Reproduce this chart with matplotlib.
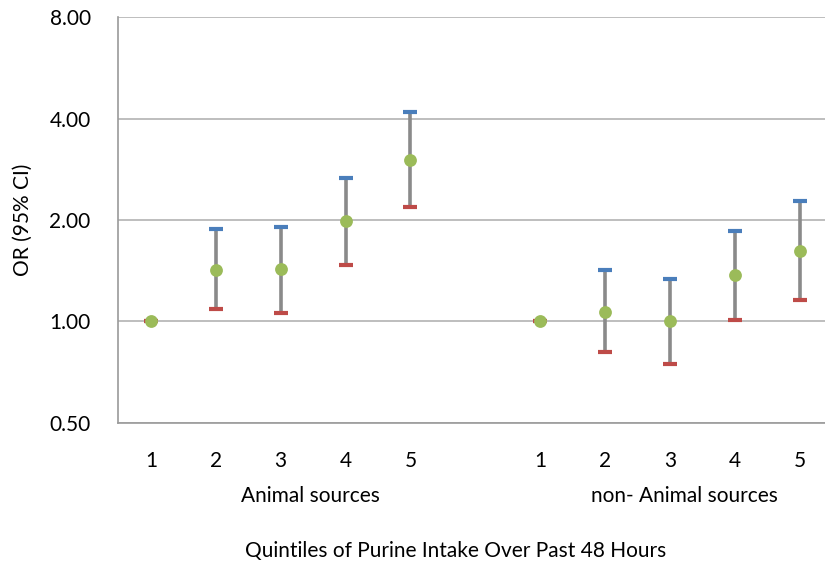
import numpy as np
import matplotlib.pyplot as plt
from matplotlib.ticker import FixedLocator, NullLocator, FixedFormatter

# Odds ratios with 95% CI per quintile
quintiles = ['1', '2', '3', '4', '5']
animal_or = [1.00, 1.42, 1.43, 1.98, 3.01]
animal_lo = [1.00, 1.09, 1.06, 1.47, 2.18]
animal_hi = [1.00, 1.88, 1.91, 2.67, 4.17]
plant_or = [1.00, 1.07, 1.00, 1.37, 1.62]
plant_lo = [1.00, 0.81, 0.75, 1.01, 1.16]
plant_hi = [1.00, 1.42, 1.34, 1.85, 2.28]
groups = ['Animal sources', 'non- Animal sources']
yticks = [0.5, 1, 2, 4, 8]

plt.rcParams['font.family'] = ['Lato', 'DejaVu Sans']
fs = 15

# 11 category slots: 5 animal, one empty, 5 non-animal
pos_a = np.arange(5)
pos_p = np.arange(6, 11)

fig = plt.figure(figsize=(8.25, 5.7), dpi=100)
# plot area runs a little past the right edge of the picture, as in the original
ax = fig.add_axes([0.1436, 0.258, 0.865, 0.712])

grey = '#8a8a8a'
for pos, mid, lo, hi in [(pos_a, animal_or, animal_lo, animal_hi),
                         (pos_p, plant_or, plant_lo, plant_hi)]:
    ax.vlines(pos, lo, hi, color=grey, lw=2.6, zorder=2)
    ax.scatter(pos, hi, marker='_', s=100, lw=3, color='#4a7ebb', zorder=3)
    ax.scatter(pos, lo, marker='_', s=100, lw=3, color='#be4b48', zorder=3)
    ax.scatter(pos, mid, s=85, color='#9bbb59', zorder=4, lw=0)

ax.set_yscale('log')
ax.set_ylim(0.5, 8)
ax.set_xlim(-0.5, 10.5)
ax.yaxis.set_major_locator(FixedLocator(yticks))
ax.yaxis.set_minor_locator(NullLocator())
ax.yaxis.set_major_formatter(FixedFormatter(['%.2f' % v for v in yticks]))
ax.grid(axis='y', color='#b3b3b3', lw=1.2)
ax.set_axisbelow(True)

ax.set_xticks(list(pos_a) + list(pos_p))
ax.set_xticklabels(quintiles + quintiles)
ax.tick_params(axis='x', length=0, pad=20, labelsize=fs)
ax.tick_params(axis='y', length=0, pad=20, labelsize=fs)

for s in ['top', 'right']:
    ax.spines[s].set_visible(False)
for s in ['left', 'bottom']:
    ax.spines[s].set_color('#9a9a9a')
    ax.spines[s].set_linewidth(1.2)

ax.text(2.46, -0.18, groups[0], transform=ax.get_xaxis_transform(),
        ha='center', va='center', fontsize=fs)
ax.text(8.22, -0.18, groups[1], transform=ax.get_xaxis_transform(),
        ha='center', va='center', fontsize=fs)

fig.text(0.552, 0.033, 'Quintiles of Purine Intake Over Past 48 Hours',
         ha='center', va='center', fontsize=fs)
fig.text(0.028, 0.614, 'OR (95% CI)', rotation=90,
         ha='center', va='center', fontsize=fs)

fig.savefig('out.png', dpi=100)
